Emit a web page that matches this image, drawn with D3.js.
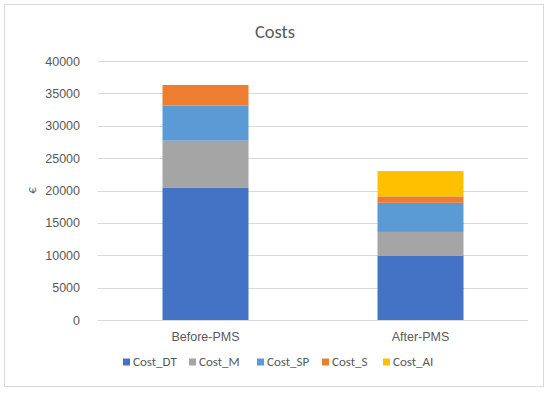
<!DOCTYPE html>
<html>
<head>
<meta charset="utf-8">
<script src="https://cdn.jsdelivr.net/npm/d3@7"></script>
<style>
  body { margin: 0; background: #fff; }
  svg { display: block; font-family: Calibri, Carlito, "Open Sans", sans-serif; }
</style>
</head>
<body>
<div id="chart"></div>
<script>
// data
var categories = ["Before-PMS", "After-PMS"];
var seriesNames = ["Cost_DT", "Cost_M", "Cost_SP", "Cost_S", "Cost_AI"];
var costDT = [20400, 9900];
var costM = [7300, 3700];
var costSP = [5400, 4500];
var costS = [3200, 1000];
var costAI = [0, 3900];
var yTicks = [0, 5000, 10000, 15000, 20000, 25000, 30000, 35000, 40000];
var colors = ["#4472c4", "#a5a5a5", "#5b9bd5", "#ed7d31", "#ffc000"];

var W = 550, H = 393;
var margin = {top: 61, right: 22, bottom: 73, left: 98};

var svg = d3.select("#chart").append("svg")
  .attr("width", W)
  .attr("height", H);

// chart border
svg.append("rect")
  .attr("x", 4.5).attr("y", 4.5)
  .attr("width", 539).attr("height", 382)
  .attr("fill", "#fff")
  .attr("stroke", "#d9d9d9");

var x = d3.scaleBand()
  .domain(categories)
  .range([margin.left, W - margin.right])
  .paddingInner(0.6)
  .paddingOuter(0.3);

var y = d3.scaleLinear()
  .domain([0, 40000])
  .range([H - margin.bottom, margin.top]);

// gridlines
svg.append("g")
  .selectAll("line")
  .data(yTicks)
  .enter()
  .append("line")
    .attr("x1", margin.left)
    .attr("x2", W - margin.right)
    .attr("y1", function(d) { return Math.round(y(d)) + 0.5; })
    .attr("y2", function(d) { return Math.round(y(d)) + 0.5; })
    .attr("stroke", "#d9d9d9");

// y axis labels
var yAxis = d3.axisLeft(y).tickValues(yTicks).tickFormat(d3.format("d")).tickSize(0).tickPadding(18);
var gy = svg.append("g")
  .attr("transform", "translate(" + margin.left + ",0)")
  .call(yAxis);
gy.select(".domain").remove();
gy.selectAll("text")
  .attr("fill", "#595959")
  .style("font-size", "12.5px");

// stack the series
var table = categories.map(function(c, i) {
  return {cat: c, Cost_DT: costDT[i], Cost_M: costM[i], Cost_SP: costSP[i], Cost_S: costS[i], Cost_AI: costAI[i]};
});
var stacked = d3.stack().keys(seriesNames)(table);

svg.append("g")
  .selectAll("g")
  .data(stacked)
  .enter()
  .append("g")
    .attr("fill", function(d, i) { return colors[i]; })
  .selectAll("rect")
  .data(function(d) { return d; })
  .enter()
  .append("rect")
    .attr("x", function(d) { return x(d.data.cat); })
    .attr("y", function(d) { return y(d[1]); })
    .attr("width", x.bandwidth())
    .attr("height", function(d) { return y(d[0]) - y(d[1]); });

// baseline
svg.append("line")
  .attr("x1", margin.left)
  .attr("x2", W - margin.right)
  .attr("y1", Math.round(y(0)) + 0.5)
  .attr("y2", Math.round(y(0)) + 0.5)
  .attr("stroke", "#d9d9d9");

// x axis labels
var gx = svg.append("g")
  .attr("transform", "translate(0," + y(0) + ")")
  .call(d3.axisBottom(x).tickSize(0).tickPadding(12));
gx.select(".domain").remove();
gx.selectAll("text")
  .attr("fill", "#595959")
  .style("font-size", "12.5px");

// title
svg.append("text")
  .attr("x", 275)
  .attr("y", 38)
  .attr("text-anchor", "middle")
  .attr("fill", "#595959")
  .style("font-size", "18.5px")
  .text("Costs");

// y axis title
svg.append("text")
  .attr("transform", "translate(36," + y(20000) + ") rotate(-90)")
  .attr("text-anchor", "middle")
  .attr("fill", "#595959")
  .style("font-size", "13px")
  .text("€");

// legend
var legendX = [123, 189, 257, 322, 383];
var legend = svg.append("g")
  .selectAll("g")
  .data(seriesNames)
  .enter()
  .append("g")
    .attr("transform", function(d, i) { return "translate(" + legendX[i] + ",366)"; });
legend.append("rect")
  .attr("x", 0).attr("y", -7.5)
  .attr("width", 7).attr("height", 7)
  .attr("fill", function(d, i) { return colors[i]; });
legend.append("text")
  .attr("x", 10)
  .attr("y", 0)
  .attr("fill", "#595959")
  .style("font-size", "13px")
  .text(function(d) { return d; });
</script>
</body>
</html>
